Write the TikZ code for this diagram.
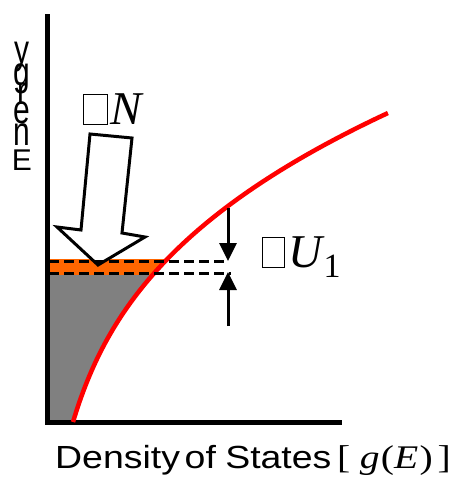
\documentclass[tikz,border=0pt]{standalone}
\usepackage{fontspec}
\setmainfont{Liberation Sans}
\newfontfamily\tnr{Liberation Serif}
\usetikzlibrary{arrows.meta}
\definecolor{dosred}{RGB}{255,0,0}
\definecolor{bandorange}{RGB}{255,102,0}
\definecolor{fillgray}{RGB}{128,128,128}
\newcommand{\missbox}[2]{{\setlength\fboxsep{0pt}\setlength\fboxrule{0.8pt}\framebox{\rule{0pt}{#2}\hspace{#1}}}}
\begin{document}
\begin{tikzpicture}[x=1pt,y=-1pt,
  axis/.style={line width=5pt, line join=miter},
  dosline/.style={draw=dosred, line width=4.5pt},
  level/.style={line width=3pt, dash pattern=on 10pt off 5pt},
  gaparrow/.style={line width=3pt, -{Triangle[length=18pt,width=17pt]}},
  blockarrow/.style={draw, fill=white, line width=3pt, line join=miter},
  energyletter/.style={anchor=base, inner sep=0pt, font=\fontsize{30}{30}\selectfont},
  biglabel/.style={anchor=base west, inner sep=0pt, font=\fontsize{47}{50}\selectfont\tnr}
]
\useasboundingbox (0,0) rectangle (455,477);

% gray filled states
\begin{scope}
  \clip (49,274) rectangle (300,424);
  \fill[fillgray] (49,422) -- plot[domain=0:3.09, samples=60, variable=\u] ({73+29.94*\u+10.235*\u*\u+4.227*\u*\u*\u}, {422-100*\u}) -- (49,113) -- cycle;
\end{scope}
% orange band
\begin{scope}
  \clip (49,259) rectangle (300,274.5);
  \fill[bandorange] (49,422) -- plot[domain=0:3.09, samples=60, variable=\u] ({73+29.94*\u+10.235*\u*\u+4.227*\u*\u*\u}, {422-100*\u}) -- (49,113) -- cycle;
\end{scope}

% axes
\coordinate (ytop) at (47.5,14);
\coordinate (origin) at (47.5,422);
\coordinate (xend) at (342,422);
\draw[axis] (ytop) -- (origin) -- (xend);

% DOS curve
\draw[dosline] plot[domain=0:3.09, samples=60, variable=\u] ({73+29.94*\u+10.235*\u*\u+4.227*\u*\u*\u}, {422-100*\u});

% block arrow
\draw[blockarrow] (90,134) -- (132,138) -- (122,233) -- (145,237) -- (98,265) -- (57,227) -- (81,230) -- cycle;

% dashed levels
\coordinate (up0) at (49,261);
\coordinate (up1) at (227,261);
\coordinate (lo0) at (49,273);
\coordinate (lo1) at (231,273);
\draw[level] (up0) -- (up1);
\draw[level] (lo0) -- (lo1);

% gap arrows
\coordinate (dtop) at (228,208);
\coordinate (dtip) at (228,261);
\coordinate (ubot) at (228,326);
\coordinate (utip) at (228,272);
\draw[gaparrow] (dtop) -- (dtip);
\draw[gaparrow] (ubot) -- (utip);

% labels
\node[biglabel] (dN) at (83,124) {\missbox{23pt}{29pt}\kern3pt\itshape N};
\node[biglabel] (dU) at (262,267) {\missbox{21pt}{29pt}\kern4pt\itshape U\kern1pt\raisebox{-10pt}{\upshape\fontsize{34}{36}\selectfont 1}};

\node[energyletter] (en1) at (22,170) {E};
\foreach \ch/\yy [count=\i from 2] in {n/145,e/123,r/104,g/85,y/63}
  \node[energyletter] (en\i) at (22,\yy) {\scalebox{1}[1.35]{\ch}};

\node[anchor=base west, inner sep=0pt] (xlabel) at (55,468)
  {\scalebox{1.17}[1]{\fontsize{32}{38}\selectfont Density\hspace{4pt}of\hspace{8pt}States}};
\node[anchor=base west, inner sep=0pt] (xlabelmath) at (337,468)
  {\scalebox{1.2}[1]{\fontsize{33}{38}\selectfont\tnr [\hspace{8pt}\itshape g\kern1pt\upshape(\itshape E\kern1pt\upshape)\hspace{4pt}]}};
\end{tikzpicture}
\end{document}
